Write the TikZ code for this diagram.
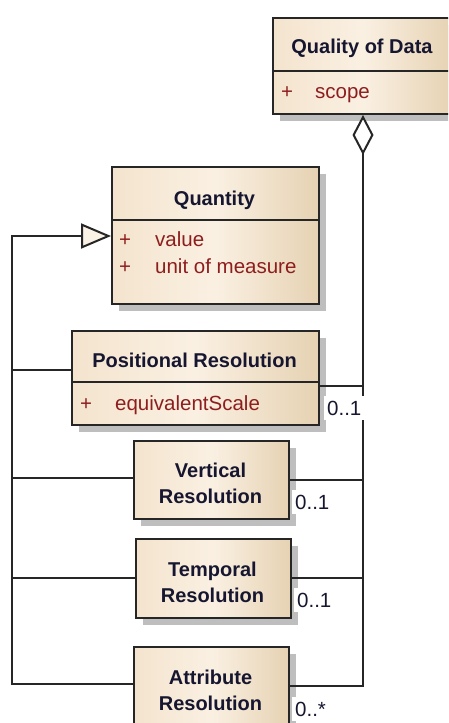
\documentclass[tikz,border=0pt]{standalone}
\usepackage{fontspec}
\setmainfont{Liberation Sans}
\usetikzlibrary{arrows.meta,shadows}

\definecolor{boxleft}{HTML}{F4E4CE}
\definecolor{boxmid}{HTML}{FAF0E2}
\definecolor{boxright}{HTML}{E6D2B3}
\definecolor{boxline}{HTML}{262626}
\definecolor{shade}{HTML}{BEBEBE}
\definecolor{titleink}{HTML}{161630}
\definecolor{attrink}{HTML}{8E1E1E}
\definecolor{tipfill}{HTML}{FBF2E6}

\begin{document}
\begin{tikzpicture}[x=1pt,y=-1pt,
  classbox/.style={draw=boxline, line width=2pt, inner sep=0pt, anchor=north west,
    left color=boxleft, right color=boxright, middle color=boxmid,
    general shadow={shadow xshift=7pt, shadow yshift=-7pt, fill=shade}},
  divider/.style={draw=boxline, line width=2pt},
  title/.style={font=\bfseries\fontsize{20}{24}\selectfont, text=titleink,
    inner sep=0pt, anchor=base},
  attr/.style={font=\fontsize{20.5}{24}\selectfont, text=attrink,
    inner sep=0pt, anchor=base west},
  mult/.style={font=\fontsize{20.5}{24}\selectfont, text=titleink, fill=white,
    inner xsep=3pt, inner ysep=5pt, anchor=base west},
  link/.style={draw=boxline, line width=2pt},
  gen/.style={link, -{Triangle[fill=tipfill, length=30pt, width=25pt]}},
  agg/.style={link, {Diamond[fill=white, length=40pt, width=21pt]}-}]
\useasboundingbox (0,0) rectangle (448,723);
\clip (0,0) rectangle (448,723);

% class boxes
\node[classbox, minimum width=180pt, minimum height=96pt] (qod) at (272,17) {};
\node[classbox, minimum width=207pt, minimum height=137pt] (quantity) at (111,166) {};
\node[classbox, minimum width=247pt, minimum height=94pt] (pos) at (71,330) {};
\node[classbox, minimum width=155pt, minimum height=78pt] (vert) at (133,440) {};
\node[classbox, minimum width=155pt, minimum height=79pt] (temp) at (135,538) {};
\node[classbox, minimum width=155pt, minimum height=80pt] (attr) at (133,646) {};

% compartment dividers
\draw[divider] (qod.west |- 0,71) -- (qod.east |- 0,71);
\draw[divider] (quantity.west |- 0,220) -- (quantity.east |- 0,220);
\draw[divider] (pos.west |- 0,382) -- (pos.east |- 0,382);

% class names
\node[title] (qodname) at (362,53) {Quality of Data};
\node[title] (quantityname) at (214.5,205) {Quantity};
\node[title] (posname) at (194.5,367) {Positional Resolution};
\node[title] (vertname1) at (210.5,477) {Vertical};
\node[title] (vertname2) at (210.5,503) {Resolution};
\node[title] (tempname1) at (212.5,576) {Temporal};
\node[title] (tempname2) at (212.5,602) {Resolution};
\node[title] (attrname1) at (210.5,684) {Attribute};
\node[title] (attrname2) at (210.5,710) {Resolution};

% attributes
\node[attr] (qodvis) at (281,98) {+};
\node[attr] (qodscope) at (315,98) {scope};
\node[attr] (qvis1) at (119,246) {+};
\node[attr] (qvalue) at (155,246) {value};
\node[attr] (qvis2) at (119,273) {+};
\node[attr] (qunit) at (155,273) {unit of measure};
\node[attr] (posvis) at (80,410) {+};
\node[attr] (posscale) at (115,410) {equivalentScale};

% generalization tree
\draw[gen] (attr.west |- 0,684) -- (12,684) -- (12,236) -- (quantity.west |- 0,236);
\draw[link] (pos.west |- 0,370) -- (12,370);
\draw[link] (vert.west |- 0,478) -- (12,478);
\draw[link] (temp.west |- 0,578) -- (12,578);

% aggregation tree
\draw[agg] (qod.south) -- (qod.south |- 0,686) -- (attr.east |- 0,686);
\draw[link] (pos.east |- 0,386) -- (qod.south |- 0,386);
\draw[link] (vert.east |- 0,480) -- (qod.south |- 0,480);
\draw[link] (temp.east |- 0,578) -- (qod.south |- 0,578);

% multiplicities
\node[mult] (m1) at (324,415) {0..1};
\node[mult] (m2) at (292,509) {0..1};
\node[mult] (m3) at (294,607) {0..1};
\node[mult] (m4) at (292,716) {0..*};
\end{tikzpicture}
\end{document}
